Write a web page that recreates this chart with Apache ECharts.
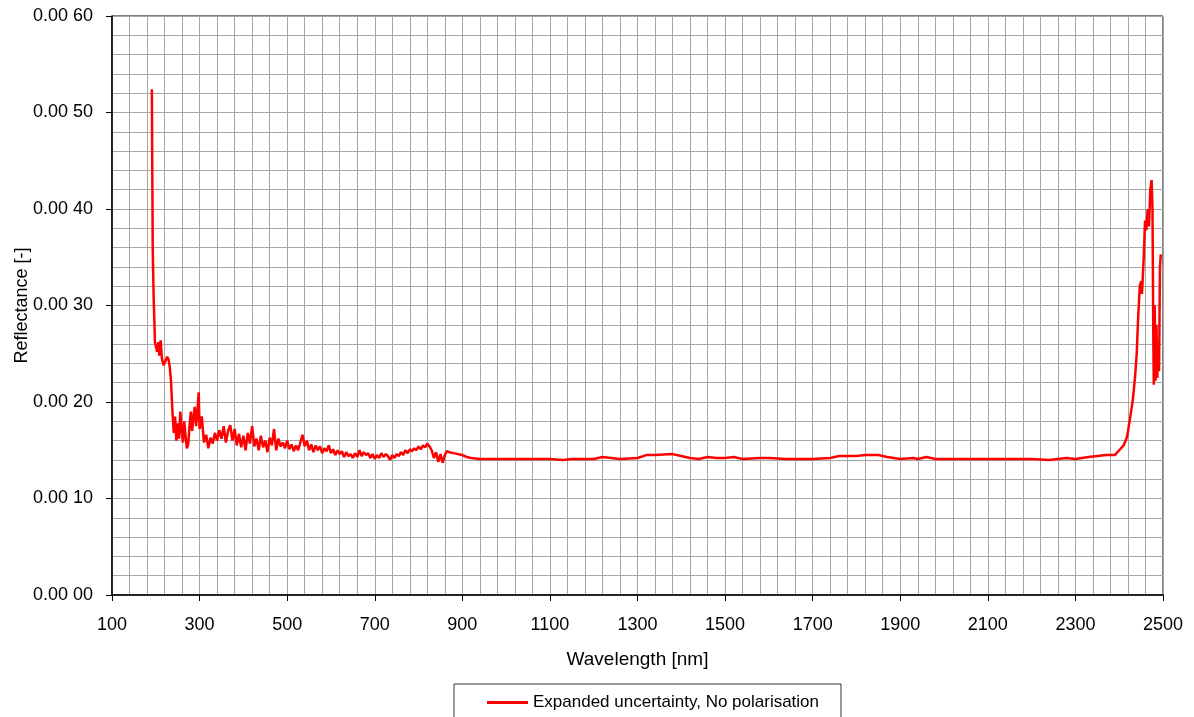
<!DOCTYPE html>
<html>
<head>
<meta charset="UTF-8">
<title>Reflectance expanded uncertainty</title>
<script src="https://cdn.jsdelivr.net/npm/echarts@6.0.0/dist/echarts.min.js"></script>
<style>
  html, body { margin: 0; padding: 0; background: #fff; }
  #chart { width: 1194px; height: 717px; }
</style>
</head>
<body>
<div id="chart"></div>
<script>
// UV part: sharp drop after the start
const uvWave = [191, 192, 193, 195, 197, 198, 200, 203, 206, 208, 211, 214, 218, 222, 226, 229, 232, 235, 238, 241,
  244, 247, 250, 253, 256, 259, 262, 265, 268, 271, 274, 277, 280, 283, 286, 289, 292, 295, 298];
const uvRefl = [0.00524, 0.00440, 0.00360, 0.00310, 0.00280, 0.00262, 0.00258, 0.00252, 0.00262, 0.00248, 0.00264, 0.00245, 0.00238, 0.00236, 0.00247, 0.00244, 0.00236, 0.00220, 0.00190, 0.00168,
  0.00185, 0.00160, 0.00178, 0.00162, 0.00190, 0.00170, 0.00158, 0.00180, 0.00165, 0.00152, 0.00156, 0.00175, 0.00190, 0.00170, 0.00185, 0.00195, 0.00175, 0.00190, 0.00210];

// visible part: noisy, slowly decreasing
const visWave = [300, 305, 310, 315, 320, 325, 330, 335, 340, 345, 350, 355, 360, 365, 370, 375, 380, 385, 390, 395,
  400, 405, 410, 415, 420, 425, 430, 435, 440, 445, 450, 455, 460, 465, 470, 475, 480, 485, 490, 495,
  500, 505, 510, 515, 520, 525, 530, 535, 540, 545, 550, 555, 560, 565, 570, 575, 580, 585, 590, 595,
  600, 605, 610, 615, 620, 625, 630, 635, 640, 645, 650, 655, 660, 665, 670, 675, 680, 685, 690, 695,
  700, 705, 710, 715, 720, 725, 730, 735, 740, 745, 750, 755, 760, 765, 770, 775, 780, 785, 790, 795,
  800, 805, 810, 815, 820, 825, 830, 835, 840, 845, 850, 855, 860, 865, 870, 880, 890, 900, 910, 920];
const visRefl = [0.00172, 0.00185, 0.00158, 0.00166, 0.00152, 0.00163, 0.00157, 0.00168, 0.00160, 0.00171, 0.00162, 0.00175, 0.00158, 0.00170, 0.00176, 0.00160, 0.00172, 0.00155, 0.00167, 0.00153,
  0.00165, 0.00150, 0.00168, 0.00157, 0.00175, 0.00154, 0.00162, 0.00150, 0.00165, 0.00153, 0.00160, 0.00148, 0.00163, 0.00155, 0.00172, 0.00150, 0.00162, 0.00154, 0.00158, 0.00152,
  0.00160, 0.00151, 0.00156, 0.00149, 0.00155, 0.00150, 0.00158, 0.00166, 0.00154, 0.00160, 0.00150, 0.00156, 0.00148, 0.00155, 0.00150, 0.00154, 0.00147, 0.00152, 0.00149, 0.00155,
  0.00147, 0.00151, 0.00145, 0.00150, 0.00146, 0.00149, 0.00143, 0.00148, 0.00144, 0.00146, 0.00142, 0.00147, 0.00143, 0.00150, 0.00144, 0.00148, 0.00145, 0.00147, 0.00142, 0.00146,
  0.00141, 0.00145, 0.00142, 0.00147, 0.00143, 0.00146, 0.00144, 0.00140, 0.00145, 0.00142, 0.00146, 0.00144, 0.00148, 0.00145, 0.00150, 0.00147, 0.00151, 0.00149, 0.00152, 0.00150,
  0.00154, 0.00151, 0.00155, 0.00153, 0.00157, 0.00154, 0.00150, 0.00142, 0.00148, 0.00138, 0.00146, 0.00137, 0.00145, 0.00149, 0.00148, 0.00147, 0.00146, 0.00145, 0.00143, 0.00142];

// near infrared: flat, then the rise at the end
const nirWave = [940, 1000, 1100, 1130, 1150, 1200, 1220, 1240, 1260, 1300, 1320, 1340, 1380, 1400, 1420, 1440, 1460, 1480, 1500, 1520,
  1540, 1580, 1600, 1640, 1700, 1740, 1760, 1800, 1820, 1850, 1870, 1900, 1930, 1940, 1960, 1980, 2000, 2100, 2200, 2240,
  2280, 2300, 2330, 2350, 2370, 2390, 2400, 2410, 2418, 2424, 2431, 2436, 2440, 2443, 2447, 2450, 2452, 2456, 2459, 2462,
  2465, 2468, 2471, 2474, 2476, 2478, 2479, 2481, 2483, 2485, 2487, 2489, 2491, 2493, 2495];
const nirRefl = [0.00141, 0.00141, 0.00141, 0.00140, 0.00141, 0.00141, 0.00143, 0.00142, 0.00141, 0.00142, 0.00145, 0.00145, 0.00146, 0.00144, 0.00142, 0.00141, 0.00143, 0.00142, 0.00142, 0.00143,
  0.00141, 0.00142, 0.00142, 0.00141, 0.00141, 0.00142, 0.00144, 0.00144, 0.00145, 0.00145, 0.00143, 0.00141, 0.00142, 0.00141, 0.00143, 0.00141, 0.00141, 0.00141, 0.00141, 0.00140,
  0.00142, 0.00141, 0.00143, 0.00144, 0.00145, 0.00145, 0.00150, 0.00155, 0.00164, 0.00181, 0.00202, 0.00225, 0.00250, 0.00285, 0.00320, 0.00325, 0.00312, 0.00350, 0.00388, 0.00378,
  0.00400, 0.00382, 0.00420, 0.00430, 0.00400, 0.00260, 0.00218, 0.00300, 0.00222, 0.00280, 0.00225, 0.00260, 0.00232, 0.00340, 0.00353];

const xTicks = { min: 100, max: 2500, step: 200 };
const yTicks = { min: 0, max: 0.006, step: 0.001 };

const wave = uvWave.concat(visWave, nirWave);
const refl = uvRefl.concat(visRefl, nirRefl);
const points = wave.map((w, i) => [w, refl[i]]);

const gridGray = '#a6a6a6';
const font = '"Liberation Sans", Arial, sans-serif';

const chart = echarts.init(document.getElementById('chart'));
chart.setOption({
  animation: false,
  backgroundColor: '#fff',
  grid: {
    left: 112, right: 31, top: 16, bottom: 122,
    outerBoundsMode: 'none', containLabel: false,
    show: true, borderColor: '#000', borderWidth: 1
  },
  legend: {
    top: 684, left: 454,
    padding: [10, 22, 22, 33],
    borderColor: '#333', borderWidth: 1,
    icon: 'rect', itemWidth: 41, itemHeight: 3,
    textStyle: { fontFamily: font, fontSize: 17, color: '#000' },
    data: ['Expanded uncertainty, No polarisation']
  },
  xAxis: {
    type: 'value', min: xTicks.min, max: xTicks.max, interval: xTicks.step,
    name: 'Wavelength [nm]', nameLocation: 'middle', nameGap: 55, nameMoveOverlap: false,
    nameTextStyle: { fontFamily: font, fontSize: 19, color: '#000' },
    axisLine: { onZero: false, lineStyle: { color: '#000', width: 1.5 } },
    axisTick: { length: 6, lineStyle: { color: '#000' } },
    axisLabel: { fontFamily: font, fontSize: 18, color: '#000', margin: 21, formatter: v => String(v) },
    splitLine: { lineStyle: { color: gridGray, width: 1 } },
    minorTick: { show: false, splitNumber: 5 },
    minorSplitLine: { show: true, lineStyle: { color: gridGray, width: 1 } }
  },
  yAxis: {
    type: 'value', min: yTicks.min, max: yTicks.max, interval: yTicks.step,
    name: 'Reflectance [-]', nameLocation: 'middle', nameGap: 81, nameMoveOverlap: false,
    nameTextStyle: { fontFamily: font, fontSize: 18, color: '#000' },
    axisLine: { show: true, lineStyle: { color: '#000', width: 1.5 } },
    axisTick: { show: true, length: 6, lineStyle: { color: '#000' } },
    axisLabel: {
      fontFamily: font, fontSize: 18, color: '#000', margin: 19,
      formatter: v => '0.00 ' + String(Math.round(v * 10000)).padStart(2, '0')
    },
    splitLine: { lineStyle: { color: gridGray, width: 1 } },
    minorTick: { show: false, splitNumber: 5 },
    minorSplitLine: { show: true, lineStyle: { color: gridGray, width: 1 } }
  },
  series: [{
    name: 'Expanded uncertainty, No polarisation',
    type: 'line',
    data: points,
    showSymbol: false,
    itemStyle: { color: '#ff0000' },
    lineStyle: { color: '#ff0000', width: 2.5 }
  }]
});
</script>
</body>
</html>
